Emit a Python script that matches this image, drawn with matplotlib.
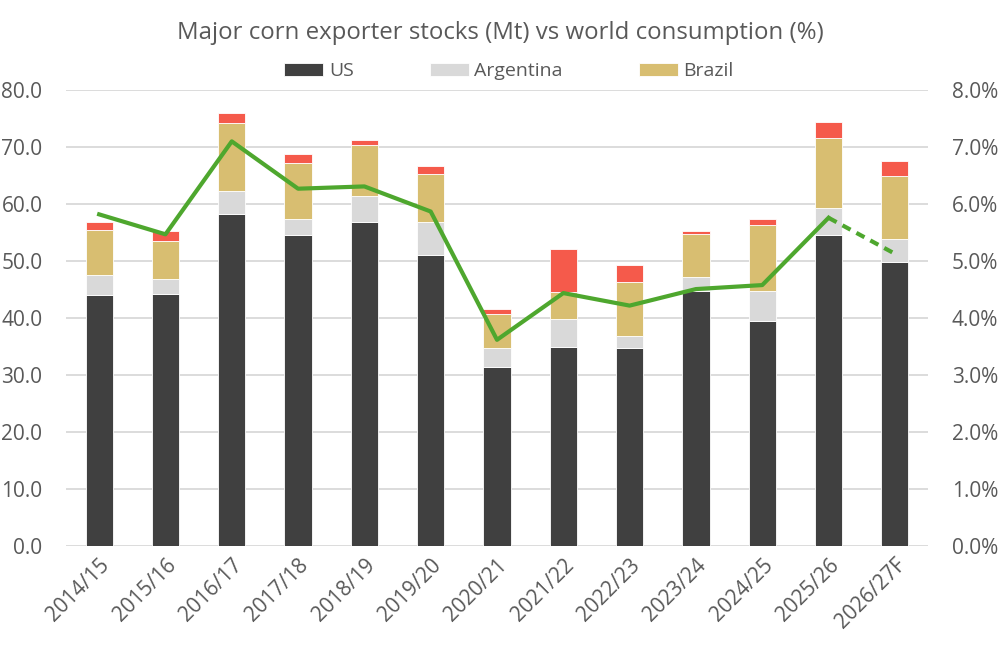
import numpy as np
import matplotlib.pyplot as plt
from matplotlib.ticker import FuncFormatter

# data
years = ['2014/15', '2015/16', '2016/17', '2017/18', '2018/19', '2019/20', '2020/21',
         '2021/22', '2022/23', '2023/24', '2024/25', '2025/26', '2026/27F']
us = [44.0, 44.2, 58.3, 54.5, 56.9, 51.0, 31.4, 34.9, 34.7, 44.8, 39.5, 54.6, 49.9]
argentina = [3.6, 2.7, 4.0, 2.8, 4.6, 5.9, 3.3, 4.9, 2.2, 2.5, 5.3, 4.7, 4.0]
brazil = [7.8, 6.7, 12.0, 9.9, 8.8, 8.3, 6.1, 4.7, 9.4, 7.4, 11.6, 12.3, 11.1]
other = [1.5, 1.6, 1.6, 1.5, 0.9, 1.4, 0.8, 7.7, 3.0, 0.5, 0.9, 2.8, 2.6]
pct_consumption = [5.82, 5.47, 7.10, 6.27, 6.31, 5.87, 3.62, 4.44, 4.22, 4.51, 4.58, 5.76, 5.13]

grey_txt = '#595959'
plt.rcParams['font.family'] = ['Open Sans', 'DejaVu Sans']

fig = plt.figure(figsize=(10, 6.67), dpi=100)
ax = fig.add_axes([0.066, 0.181, 0.862, 0.684])
ax2 = ax.twinx()

x = np.arange(len(years))
w = 0.41
ec = 'white'
lw = 0.6
b_us = ax.bar(x, us, w, color='#404040', edgecolor=ec, linewidth=lw, label='US', zorder=2)
bot = np.array(us)
b_ar = ax.bar(x, argentina, w, bottom=bot, color='#d9d9d9', edgecolor=ec, linewidth=lw,
              label='Argentina', zorder=2)
bot = bot + np.array(argentina)
b_br = ax.bar(x, brazil, w, bottom=bot, color='#d8be71', edgecolor=ec, linewidth=lw,
              label='Brazil', zorder=2)
bot = bot + np.array(brazil)
ax.bar(x, other, w, bottom=bot, color='#f55a4b', edgecolor=ec, linewidth=lw, zorder=2)

ax.set_ylim(0, 80)
ax.set_yticks(np.arange(0, 81, 10))
ax.yaxis.set_major_formatter(FuncFormatter(lambda v, p: f'{v:.1f}'))
ax.set_xlim(-0.5, len(years) - 0.5)
ax.set_xticks(x)
ax.set_xticklabels(years, rotation=45, ha='right', rotation_mode='anchor')
ax.grid(axis='y', color='#d9d9d9', linewidth=1.3, zorder=0)
ax.set_axisbelow(True)

# line on secondary axis: solid to 2025/26, dashed to forecast
green = '#4ea72e'
ax2.plot(x[:-1], pct_consumption[:-1], color=green, linewidth=3, zorder=3)
ax2.plot(x[-2:], pct_consumption[-2:], color=green, linewidth=3, linestyle=(0, (2.2, 1.6)), zorder=3)
ax2.set_ylim(0, 8)
ax2.set_yticks(np.arange(0, 8.1, 1))
ax2.yaxis.set_major_formatter(FuncFormatter(lambda v, p: f'{v:.1f}%'))

for a in (ax, ax2):
    for s in a.spines.values():
        s.set_visible(False)
    a.tick_params(length=0, labelsize=15, colors=grey_txt)
ax.tick_params(axis='y', pad=17)
ax2.tick_params(axis='y', pad=17)
ax.tick_params(axis='x', pad=6)

fig.text(0.5, 0.951, 'Major corn exporter stocks (Mt) vs world consumption (%)',
         ha='center', va='center', fontsize=17.3, color=grey_txt)
fig.legend(handles=[b_us, b_ar, b_br], loc='center', bbox_to_anchor=(0.509, 0.893), ncol=3,
           frameon=False, fontsize=14, labelcolor=grey_txt, handlelength=2.0, handleheight=0.7,
           handletextpad=0.3, columnspacing=3.9)

fig.savefig('out.png', dpi=100)
